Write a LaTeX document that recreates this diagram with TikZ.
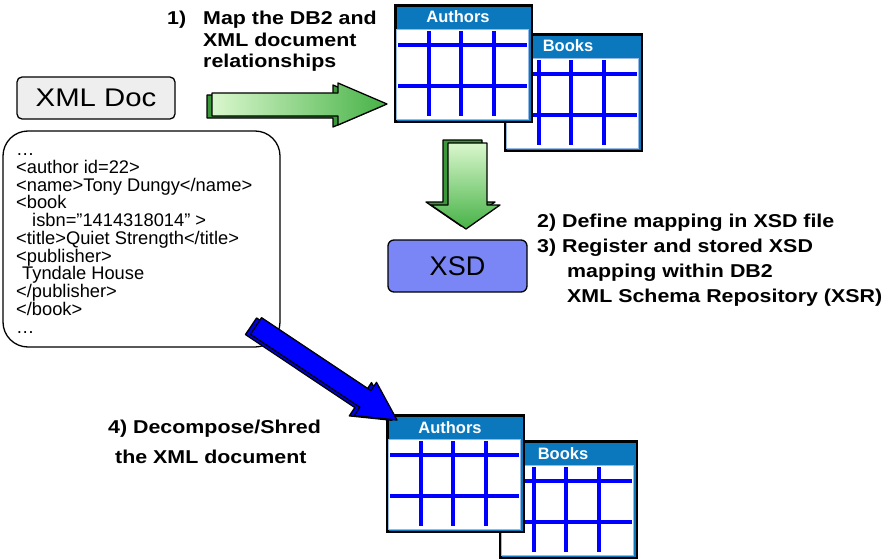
\documentclass[tikz,border=0pt]{standalone}
\usepackage{fontspec}
\setmainfont{Liberation Sans}
\newfontfamily\lblfont[FakeStretch=1.15]{Liberation Sans}
\definecolor{titleblue}{RGB}{11,120,190}
\definecolor{gridblue}{RGB}{0,0,255}
\definecolor{edgeblue}{RGB}{150,185,230}
\definecolor{xsdfill}{RGB}{122,134,246}
\definecolor{docgray}{RGB}{238,238,238}
\definecolor{lightgreen}{RGB}{218,247,205}
\definecolor{midgreen}{RGB}{70,178,70}
\definecolor{darkgreen}{RGB}{60,150,60}
\definecolor{arrowblue}{RGB}{0,0,255}
\definecolor{darkblue}{RGB}{0,0,225}
\tikzset{
  lbl/.style={font=\lblfont\fontsize{18.6}{22}\selectfont\bfseries, anchor=base west, inner sep=0pt},
  xmlline/.style={font=\fontsize{18.3}{18}\selectfont, anchor=base west, inner sep=0pt},
  outl/.style={draw=black, line width=1.3pt, line join=round},
  dbtable/.pic={
    \node[draw=black, line width=2.5pt, fill=titleblue, minimum width=136.5pt, minimum height=116.5pt, inner sep=0pt, anchor=north west] (-frame) at (1.25,1.25) {};
    \filldraw[fill=white, draw=edgeblue, line width=0.8pt] (3.5,26) rectangle (135.5,116);
    \foreach \yy in {42,83} \draw[gridblue, line width=4pt] (5,\yy) -- (134,\yy);
    \foreach \xx in {36,68,101} \draw[gridblue, line width=4pt] (\xx,28) -- (\xx,113);
    \node[text=white, font=\fontsize{16.5}{18}\selectfont\bfseries, anchor=base, inner sep=0pt] (-title) at (65,20) {#1};
  },
}
\begin{document}
\begin{tikzpicture}[x=1pt,y=-1pt]
\useasboundingbox (0,0) rectangle (885,559);

% top tables
\pic (tb) at (503,32) {dbtable=Books};
\pic (ta) at (393,3) {dbtable=Authors};

% bottom tables
\pic (bb) at (498,439) {dbtable=Books};
\pic (ba) at (385,413) {dbtable=Authors};

% step 1 label
\node[lbl] (l1a) at (167,25) {1)};
\node[lbl] (l1b) at (203,25) {Map the DB2 and};
\node[lbl] (l1c) at (203,46.5) {XML document};
\node[lbl] (l1d) at (203,67.5) {relationships};

% step 2/3 labels
\node[lbl] (l2) at (537,227) {2) Define mapping in XSD file};
\node[lbl] (l3) at (537,252) {3) Register and stored XSD};
\node[lbl] (l3b) at (567,277) {mapping within DB2};
\node[lbl] (l3c) at (567,302) {XML Schema Repository (XSR)};

% step 4 labels
\node[lbl] (l4) at (108,433) {4) Decompose/Shred};
\node[lbl] (l4b) at (115,463) {the XML document};

% XML Doc box
\node[draw=black, line width=1.3pt, fill=docgray, rounded corners=5pt, minimum width=158pt, minimum height=42pt, inner sep=0pt, font=\lblfont\fontsize{25.5}{28}\selectfont] (xmldoc) at (96,98) {XML Doc};

% XSD box
\node[draw=black, line width=1.3pt, fill=xsdfill, rounded corners=6pt, minimum width=139pt, minimum height=52pt, inner sep=0pt, font=\fontsize{27}{30}\selectfont] (xsd) at (457.5,266) {XSD};

% XML content box
\node[draw=black, line width=1.3pt, fill=white, rounded corners=25pt, minimum width=277pt, minimum height=216pt, inner sep=0pt] (xmlbox) at (141.5,239) {};
\node[xmlline] (x0) at (16,155.5) {…};
\node[xmlline] (x1) at (16,173.3) {<author id=22>};
\node[xmlline] (x2) at (16,191) {<name>Tony Dungy</name>};
\node[xmlline] (x3) at (16,208.8) {<book};
\node[xmlline] (x4) at (32,226.5) {isbn=\symbol{34}1414318014\symbol{34} >};
\node[xmlline] (x5) at (16,244.3) {<title>Quiet Strength</title>};
\node[xmlline] (x6) at (16,262) {<publisher>};
\node[xmlline] (x7) at (22,279.8) {Tyndale House};
\node[xmlline] (x8) at (16,297.5) {</publisher>};
\node[xmlline] (x9) at (16,315.3) {</book>};
\node[xmlline] (x10) at (16,333) {…};

% green right arrow
\draw[outl, fill=darkgreen, shift={(-5,2)}] (212,93) -- (338,93) -- (338,83) -- (387,104) -- (338,125) -- (338,116) -- (212,116) -- cycle;
\draw[outl, left color=lightgreen, right color=midgreen] (212,93) -- (338,93) -- (338,83) -- (387,104) -- (338,125) -- (338,116) -- (212,116) -- cycle;

% green down arrow
\draw[outl, fill=darkgreen, shift={(-5,-3)}] (448,143) -- (487,143) -- (487,205) -- (500,205) -- (466,229) -- (431,205) -- (448,205) -- cycle;
\draw[outl, top color=lightgreen, bottom color=midgreen] (448,143) -- (487,143) -- (487,205) -- (500,205) -- (466,229) -- (431,205) -- (448,205) -- cycle;

% blue diagonal arrow
\begin{scope}[shift={(256,326)}, rotate=-33.7]
  \draw[outl, fill=darkblue, shift={(-4,3)}] (0,-10) -- (131.5,-10) -- (131.5,-20) -- (169.5,0) -- (131.5,20) -- (131.5,10) -- (0,10) -- cycle;
  \draw[outl, fill=arrowblue] (0,-10) -- (131.5,-10) -- (131.5,-20) -- (169.5,0) -- (131.5,20) -- (131.5,10) -- (0,10) -- cycle;
\end{scope}
\end{tikzpicture}
\end{document}
